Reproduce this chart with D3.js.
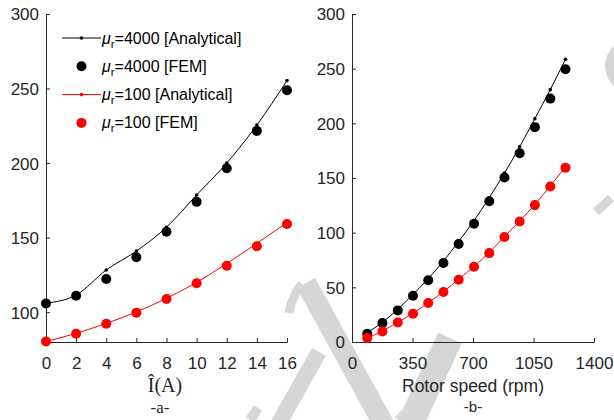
<!DOCTYPE html>
<html>
<head>
<meta charset="utf-8">
<script src="https://cdn.jsdelivr.net/npm/d3@7"></script>
<style>
  body { margin: 0; background: #fff; }
  svg { display: block; }
  .tick text { font-family: "Liberation Sans", Arial, sans-serif; font-size: 17px; fill: #262626; }
  .axis path, .axis line { stroke: #262626; }
</style>
</head>
<body>
<svg id="chart" width="614" height="420"></svg>
<script>
// panel a: current amplitude (A)
const currentA = [0, 2, 4, 6, 8, 10, 12, 14, 16];
const mu4000AnalyticalA = [106, 111.5, 128.3, 141, 157, 178.6, 200, 225.5, 255.4];
const mu4000FemA = [105.8, 111, 122.3, 136.8, 154, 174, 196.5, 221.6, 248.9];
const mu100AnalyticalA = [80.3, 85.8, 92.5, 100.2, 109.3, 120, 132.6, 146.2, 160];
const mu100FemA = [80.3, 85.5, 92.2, 99.7, 108.9, 119.4, 131.2, 144.2, 159.1];

// panel b: rotor speed (rpm)
const speedB = [88, 176, 265, 353, 441, 529, 617, 706, 794, 882, 970, 1058, 1147, 1235];
const mu4000AnalyticalB = [8.5, 18, 30, 43.5, 58, 74, 92, 111, 132, 154.5, 178.5, 204.3, 230.8, 258.6];
const mu4000FemB = [7.6, 17.4, 28.9, 42.3, 56.5, 72.2, 89.6, 108.1, 128.8, 150.4, 172.7, 196.5, 222.6, 249.5];
const mu100AnalyticalB = [3.8, 10, 18.2, 26.2, 36, 46, 57.3, 69.2, 81.8, 96.4, 110.7, 125.8, 142.8, 160];
const mu100FemB = [3.6, 9.7, 17.9, 25.9, 35.6, 45.7, 57, 68.8, 81.3, 96, 110.2, 125.2, 142.2, 159.3];

const ticksAX = [0, 2, 4, 6, 8, 10, 12, 14, 16];
const ticksAY = [100, 150, 200, 250, 300];
const ticksBX = [0, 350, 700, 1050, 1400];
const ticksBY = [0, 50, 100, 150, 200, 250, 300];

const legendLabels = ['=4000 [Analytical]', '=4000 [FEM]', '=100 [Analytical]', '=100 [FEM]'];

// light grey watermark strokes sitting behind the plots
const watermark = [
  { d: 'M306,283 L384,425', w: 21 },
  { d: 'M302,284 Q292,296 289,313', w: 9 },
  { d: 'M319,352 L276,428', w: 16 },
  { d: 'M450,338 L410,425', w: 26 },
  { d: 'M398,420 Q420,400 428,388', w: 9 },
  { d: 'M596,212 L611,198', w: 9 },
  { d: 'M250,420 L258,408', w: 10 }
];

const svg = d3.select('#chart');
const font = '"Liberation Sans", Arial, sans-serif';

const wm = svg.append('g');
wm.selectAll('path')
  .data(watermark)
  .enter()
  .append('path')
  .attr('d', d => d.d)
  .attr('fill', 'none')
  .attr('stroke', '#d6d6d6')
  .attr('stroke-width', d => d.w);
wm.append('circle')
  .attr('cx', 632)
  .attr('cy', 66)
  .attr('r', 27)
  .attr('fill', '#d6d6d6');

const drawPanel = (opts) => {
  const x = d3.scaleLinear().domain(opts.xDomain).range(opts.xRange);
  const y = d3.scaleLinear().domain(opts.yDomain).range(opts.yRange);

  svg.append('g')
    .attr('class', 'axis')
    .attr('transform', 'translate(0,' + opts.yRange[0] + ')')
    .call(d3.axisBottom(x).tickValues(opts.xTicks).tickFormat(d3.format('d'))
      .tickSizeInner(-4).tickSizeOuter(0).tickPadding(15))
    .call(g => g.selectAll('.tick text').attr('dy', '0.71em'));

  svg.append('g')
    .attr('class', 'axis')
    .attr('transform', 'translate(' + opts.xRange[0] + ',0)')
    .call(d3.axisLeft(y).tickValues(opts.yTicks).tickFormat(d3.format('d'))
      .tickSizeInner(-4).tickSizeOuter(0).tickPadding(7))
    .call(g => g.selectAll('.tick text').attr('dy', '0.35em'));

  const line = d3.line()
    .x(d => x(d[0]))
    .y(d => y(d[1]))
    .curve(d3.curveMonotoneX);

  opts.series.forEach(s => {
    const pts = opts.xs.map((v, i) => [v, s.values[i]]);
    if (s.kind === 'line') {
      svg.append('path')
        .datum(pts)
        .attr('fill', 'none')
        .attr('stroke', s.color)
        .attr('stroke-width', 1)
        .attr('d', line);
      svg.append('g')
        .selectAll('circle')
        .data(pts)
        .enter()
        .append('circle')
        .attr('cx', d => x(d[0]))
        .attr('cy', d => y(d[1]))
        .attr('r', 1.8)
        .attr('fill', s.color);
    } else {
      svg.append('g')
        .selectAll('circle')
        .data(pts)
        .enter()
        .append('circle')
        .attr('cx', d => x(d[0]))
        .attr('cy', d => y(d[1]))
        .attr('r', 5)
        .attr('fill', s.color);
    }
  });
};

// FEM dots are drawn after the analytical lines, like the source figure
drawPanel({
  xDomain: [0, 16], xRange: [46, 287],
  yDomain: [80, 300], yRange: [342, 14],
  xTicks: ticksAX, yTicks: ticksAY,
  xs: currentA,
  series: [
    { kind: 'line', color: '#000', values: mu4000AnalyticalA },
    { kind: 'dot', color: '#000', values: mu4000FemA },
    { kind: 'line', color: '#ff0000', values: mu100AnalyticalA },
    { kind: 'dot', color: '#ff0000', values: mu100FemA }
  ]
});

drawPanel({
  xDomain: [0, 1400], xRange: [352, 594],
  yDomain: [0, 300], yRange: [342, 14],
  xTicks: ticksBX, yTicks: ticksBY,
  xs: speedB,
  series: [
    { kind: 'line', color: '#000', values: mu4000AnalyticalB },
    { kind: 'dot', color: '#000', values: mu4000FemB },
    { kind: 'line', color: '#ff0000', values: mu100AnalyticalB },
    { kind: 'dot', color: '#ff0000', values: mu100FemB }
  ]
});

// legend
const legend = svg.append('g');
const legendKinds = ['line', 'dot', 'line', 'dot'];
const legendColors = ['#000', '#000', '#ff0000', '#ff0000'];
legendLabels.forEach((label, i) => {
  const cy = 38 + i * 28.3;
  if (legendKinds[i] === 'line') {
    legend.append('line')
      .attr('x1', 62).attr('x2', 101)
      .attr('y1', cy).attr('y2', cy)
      .attr('stroke', legendColors[i]);
    legend.append('circle').attr('cx', 81.5).attr('cy', cy).attr('r', 1.8).attr('fill', legendColors[i]);
  } else {
    legend.append('circle').attr('cx', 81.5).attr('cy', cy).attr('r', 5).attr('fill', legendColors[i]);
  }
  const t = legend.append('text')
    .attr('x', 102)
    .attr('y', cy + 5.5)
    .attr('font-family', font)
    .attr('font-size', 16)
    .attr('fill', '#000');
  t.append('tspan').attr('font-style', 'italic').text('μ');
  t.append('tspan').attr('font-size', 11.5).attr('dy', 4).text('r');
  t.append('tspan').attr('dy', -4).text(label);
});

// axis titles and panel captions
svg.append('text')
  .attr('x', 165).attr('y', 392)
  .attr('text-anchor', 'middle')
  .attr('font-family', '"Liberation Serif", "Times New Roman", serif')
  .attr('font-size', 20)
  .attr('fill', '#262626')
  .text('Î(A)');

svg.append('text')
  .attr('x', 160).attr('y', 413)
  .attr('text-anchor', 'middle')
  .attr('font-family', '"Liberation Serif", "Times New Roman", serif')
  .attr('font-size', 17)
  .attr('fill', '#262626')
  .text('-a-');

svg.append('text')
  .attr('x', 473).attr('y', 392)
  .attr('text-anchor', 'middle')
  .attr('font-family', font)
  .attr('font-size', 17.5)
  .attr('fill', '#262626')
  .text('Rotor speed (rpm)');

svg.append('text')
  .attr('x', 473).attr('y', 412)
  .attr('text-anchor', 'middle')
  .attr('font-family', font)
  .attr('font-size', 15)
  .attr('fill', '#262626')
  .text('-b-');
</script>
</body>
</html>
